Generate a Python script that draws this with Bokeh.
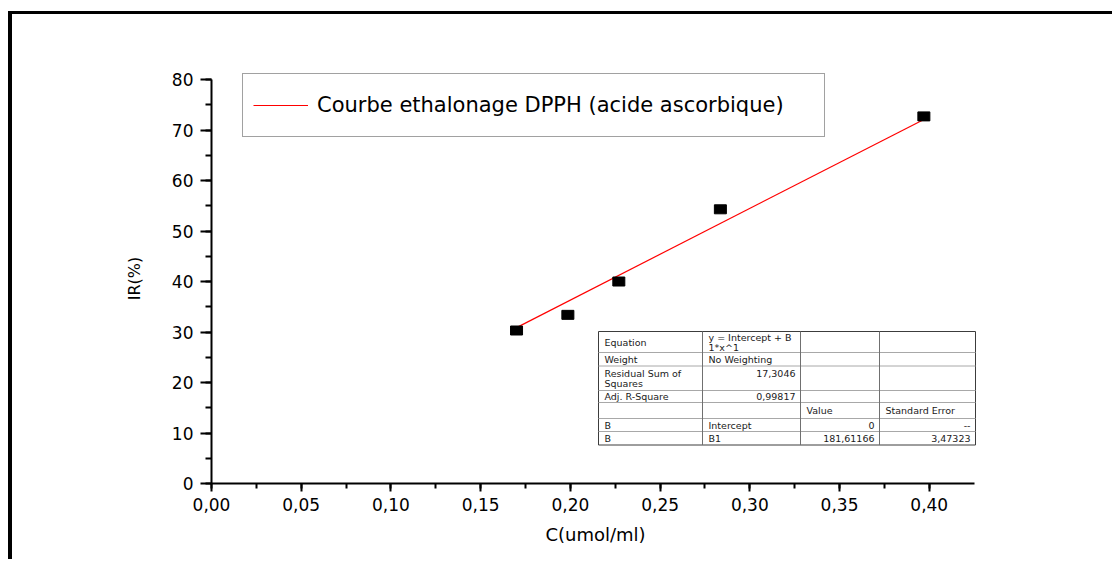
from bokeh.plotting import figure
from bokeh.models import (Range1d, SingleIntervalTicker, CustomJSTickFormatter,
                          Legend, LegendItem)
from bokeh.core.properties import value
from bokeh.embed import file_html
from bokeh.resources import INLINE

# ---------------- data ----------------
conc = [0.170, 0.1986, 0.227, 0.2836, 0.397]
ir = [30.3, 33.4, 40.0, 54.3, 72.7]
fit_intercept = 0.0
fit_slope = 181.61166

legend_label = "Courbe ethalonage DPPH (acide ascorbique)"
x_title = "C(umol/ml)"
y_title = "IR(%)"

table_col0 = ["Equation", "Weight", "Residual Sum of\nSquares", "Adj. R-Square", "", "B", "B"]
table_col1 = ["y = Intercept + B\n1*x^1", "No Weighting", "17,3046", "0,99817", "", "Intercept", "B1"]
table_col2 = ["", "", "", "", "Value", "0", "181,61166"]
table_col3 = ["", "", "", "", "Standard Error", "--", "3,47323"]
table_right = [  # which cells are right aligned (numeric)
    [False, False, False, False],
    [False, False, False, False],
    [False, True, False, False],
    [False, True, False, False],
    [False, False, False, False],
    [False, False, True, True],
    [False, False, True, True],
]

# ---------------- layout ----------------
W, H = 1104, 548
ML, MR, MT, MB = 199, 137, 59, 79
X0, X1 = 0.0, 0.428
Y0 = 0.0
SY = 408 / 80.8                      # px per IR unit
Y1 = Y0 + (H - MT - MB) / SY
FONT = "DejaVu Sans"
PAGE_X, PAGE_Y = 12, 14              # page position of the canvas origin

p = figure(width=W, height=H, x_range=Range1d(X0, X1), y_range=Range1d(Y0, Y1),
           output_backend="svg", toolbar_location=None,
           min_border_left=ML, min_border_right=MR, min_border_top=MT, min_border_bottom=MB,
           background_fill_color="white", border_fill_color="white")
p.styles = {"border-left": "4px solid black", "border-top": "3px solid black",
            "margin-top": "11px", "margin-left": "8px"}
p.outline_line_color = None
p.grid.visible = False

# axes
xa = p.xaxis[0]
ya = p.yaxis[0]
xa.ticker = SingleIntervalTicker(interval=0.05, num_minor_ticks=2)
ya.ticker = SingleIntervalTicker(interval=10, num_minor_ticks=2)
xa.formatter = CustomJSTickFormatter(code="return tick.toFixed(2).replace('.', ',');")
xa.bounds = (0, 0.425)
ya.bounds = (0, 80)
for ax in (xa, ya):
    ax.axis_line_width = 2
    ax.axis_line_color = "black"
    ax.major_tick_line_width = 2
    ax.minor_tick_line_width = 2
    ax.major_tick_line_color = "black"
    ax.minor_tick_line_color = "black"
    ax.major_tick_in = 0
    ax.minor_tick_in = 0
    ax.major_label_text_font = FONT
    ax.major_label_text_font_size = "17px"
    ax.major_label_text_color = "black"
    ax.axis_label_text_font = FONT
    ax.axis_label_text_font_style = "normal"
    ax.axis_label_text_color = "black"
xa.major_tick_out = 8
xa.minor_tick_out = 5
xa.major_label_standoff = 6
xa.axis_label = x_title
xa.axis_label_text_font_size = "18px"
xa.axis_label_standoff = 10
ya.major_tick_out = 11
ya.minor_tick_out = 6
ya.major_label_standoff = 7
ya.axis_label = y_title
ya.axis_label_text_font_size = "16px"
ya.axis_label_standoff = 25

# fit line
xf = [min(conc), max(conc)]
yf = [fit_intercept + fit_slope * v for v in xf]
fit = p.line(xf, yf, line_color="#ff0000", line_width=1.2)

# points
p.rect(conc, ir, width=12, height=9, width_units="screen", height_units="screen",
       fill_color="black", line_color="black")

# legend
leg = Legend(items=[LegendItem(label=legend_label, renderers=[fit])],
             location=(31, 346), padding=10, spacing=0,
             glyph_width=55, glyph_height=42, label_height=42, label_width=497,
             label_standoff=9, label_text_font=FONT, label_text_font_size="21px",
             label_text_color="black", border_line_color="#444444", border_line_width=1,
             background_fill_color="white", background_fill_alpha=1.0, margin=0)
p.add_layout(leg, "center")

# ---------------- fit-results table (positioned in page pixels) ----------------
frame_left_px = PAGE_X + ML
frame_bottom_px = PAGE_Y + H - MB
sx = (W - ML - MR) / (X1 - X0)
sy = (H - MT - MB) / (Y1 - Y0)


def dx(px):
    return X0 + (px - frame_left_px) / sx


def dy(py):
    return Y0 + (frame_bottom_px - py) / sy


col_px = [598, 702, 800, 879, 975]
row_px = [331, 352, 365.5, 390, 402, 418, 431, 444.5]
line_h = 10

p.quad(left=[dx(col_px[0])], right=[dx(col_px[-1])], top=[dy(row_px[0])], bottom=[dy(row_px[-1])],
       fill_color="white", line_color="#3c3c3c", line_width=1)
p.segment(x0=[dx(col_px[0])] * (len(row_px) - 2), x1=[dx(col_px[-1])] * (len(row_px) - 2),
          y0=[dy(r) for r in row_px[1:-1]], y1=[dy(r) for r in row_px[1:-1]],
          line_color="#a8a8a8", line_width=1)
p.segment(x0=[dx(c) for c in col_px[1:-1]], x1=[dx(c) for c in col_px[1:-1]],
          y0=[dy(row_px[0])] * (len(col_px) - 2), y1=[dy(row_px[-1])] * (len(col_px) - 2),
          line_color="#707070", line_width=1)

lx, ly, lt, rx, ry, rt = [], [], [], [], [], []
cols = [table_col0, table_col1, table_col2, table_col3]
for r in range(len(table_col0)):
    top, bot = row_px[r], row_px[r + 1]
    mid = (top + bot) / 2
    nmax = max(len(c[r].split("\n")) for c in cols)
    first = mid - (nmax - 1) * line_h / 2
    for c in range(4):
        txt = cols[c][r]
        if not txt:
            continue
        lines = txt.split("\n")
        right = table_right[r][c]
        if len(lines) > 1:
            ys = [mid - (len(lines) - 1) * line_h / 2 + i * line_h for i in range(len(lines))]
        elif right:
            ys = [first]
        else:
            ys = [mid]
        for ln, yy in zip(lines, ys):
            if right:
                rx.append(dx(col_px[c + 1] - 5)); ry.append(dy(yy)); rt.append(ln)
            else:
                lx.append(dx(col_px[c] + 6)); ly.append(dy(yy)); lt.append(ln)

p.text(lx, ly, text=lt, text_font=value(FONT), text_font_size="9.5px", text_color="#1a1a1a",
       text_align="left", text_baseline="middle")
p.text(rx, ry, text=rt, text_font=value(FONT), text_font_size="9.5px", text_color="#1a1a1a",
       text_align="right", text_baseline="middle")

open("out.html", "w").write(file_html(p, INLINE))
